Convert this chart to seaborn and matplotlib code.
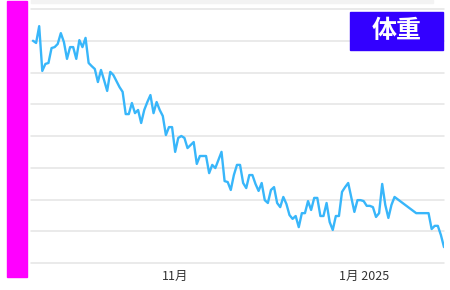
import matplotlib
matplotlib.use('Agg')
import matplotlib.pyplot as plt
import seaborn as sns
import pandas as pd
import numpy as np
from matplotlib.patches import Rectangle

sns.set_theme(style='white')
plt.rcParams['font.family'] = ['Noto Sans CJK JP', 'DejaVu Sans']

start_date = '2024-09-16'
day_offsets = [0, 1, 2, 3, 4, 5, 6, 7, 8, 9, 10, 11, 12, 13, 14, 15, 16, 17, 18, 19,
               20, 21, 22, 23, 24, 25, 26, 27, 28, 29, 30, 31, 32, 33, 34, 35, 36, 37, 38, 39,
               40, 41, 42, 43, 44, 45, 46, 47, 48, 49, 50, 52, 53, 54, 55, 56, 57, 58, 59, 61,
               62, 63, 64, 65, 66, 67, 68, 69, 70, 71, 72, 73, 74, 75, 76, 77, 78, 79, 80, 81,
               82, 83, 84, 85, 86, 87, 88, 89, 90, 91, 92, 93, 94, 95, 96, 97, 98, 99, 100, 101,
               102, 104, 105, 106, 107, 108, 109, 110, 111, 112, 113, 114, 115, 116, 117, 124, 128, 129, 130, 131,
               132, 133]
weights = [75.00, 74.93, 75.46, 74.05, 74.27, 74.30, 74.77, 74.80, 74.90, 75.24,
           74.96, 74.43, 74.80, 74.80, 74.43, 75.02, 74.80, 75.09, 74.30, 74.20,
           74.11, 73.70, 74.08, 73.76, 73.42, 74.02, 73.92, 73.73, 73.54, 73.39,
           72.69, 72.69, 73.04, 72.72, 72.82, 72.41, 72.82, 73.07, 73.29, 72.72,
           73.07, 72.82, 72.63, 72.03, 72.28, 72.28, 71.50, 71.94, 72.00, 71.94,
           71.62, 71.81, 71.12, 71.37, 71.37, 71.37, 70.83, 71.09, 70.99, 71.50,
           70.58, 70.55, 70.30, 70.77, 71.09, 71.09, 70.52, 70.36, 70.77, 70.77,
           70.49, 70.27, 70.52, 69.98, 69.89, 70.30, 70.39, 69.89, 69.76, 70.08,
           69.86, 69.51, 69.39, 69.48, 69.13, 69.57, 69.57, 69.95, 69.67, 70.05,
           70.05, 69.48, 69.48, 69.89, 69.29, 69.04, 69.48, 69.48, 70.24, 70.39,
           70.52, 69.61, 69.98, 69.98, 69.95, 69.80, 69.80, 69.76, 69.45, 69.57,
           70.49, 69.83, 69.42, 69.83, 70.08, 69.57, 69.57, 69.07, 69.17, 69.17,
           68.88, 68.50]
tick_dates = ['2024-11-01', '2025-01-01']
tick_labels = ['11月', '1月 2025']
grid_values = [68, 69, 70, 71, 72, 73, 74, 75, 76]
title_text = '体重'

start = pd.Timestamp(start_date)
df = pd.DataFrame({
    'date': start + pd.to_timedelta(day_offsets, unit='D'),
    'weight': weights,
})

W, H = 450, 290
fig = plt.figure(figsize=(W / 100, H / 100), dpi=100)
fig.patch.set_facecolor('white')

ax = fig.add_axes([31 / W, (H - 263) / H, (444 - 31) / W, (263 - 9) / H])
ax.set_facecolor('white')
sns.lineplot(data=df, x='date', y='weight', ax=ax, color='#38B6FA', linewidth=1.7)

ax.set_ylim(min(grid_values), max(grid_values))
ax.set_yticks(grid_values)
ax.set_yticklabels([])
ax.yaxis.grid(True, color='#E4E4E4', linewidth=1.1)
ax.xaxis.grid(False)
for s in ax.spines.values():
    s.set_visible(False)
ax.set_xlim(start - pd.Timedelta(days=0.65), start + pd.Timedelta(days=max(day_offsets)))
ax.set_xticks([pd.Timestamp(d) for d in tick_dates])
ax.set_xticklabels(tick_labels)
ax.tick_params(axis='x', length=0, pad=5, labelsize=9, labelcolor='#333333')
ax.tick_params(axis='y', length=0)
ax.set_xlabel('')
ax.set_ylabel('')
for gl in ax.get_ygridlines():
    gl.set_clip_on(False)

# decorations
fig.patches.append(Rectangle((31 / W, (H - 3) / H), 402 / W, 3 / H,
                             transform=fig.transFigure, color='#F3F3F3', zorder=0))
fig.patches.append(Rectangle((7 / W, (H - 277) / H), 20 / W, 276 / H,
                             transform=fig.transFigure, color='#FF00FF', zorder=5))
fig.patches.append(Rectangle((350 / W, (H - 50) / H), 93 / W, 38 / H,
                             transform=fig.transFigure, color='#3300FF', zorder=5))
fig.text(396.5 / W, (H - 31) / H, title_text, color='white', fontsize=18,
         fontweight='bold', ha='center', va='center', zorder=6)

fig.savefig('out.png', dpi=100)
